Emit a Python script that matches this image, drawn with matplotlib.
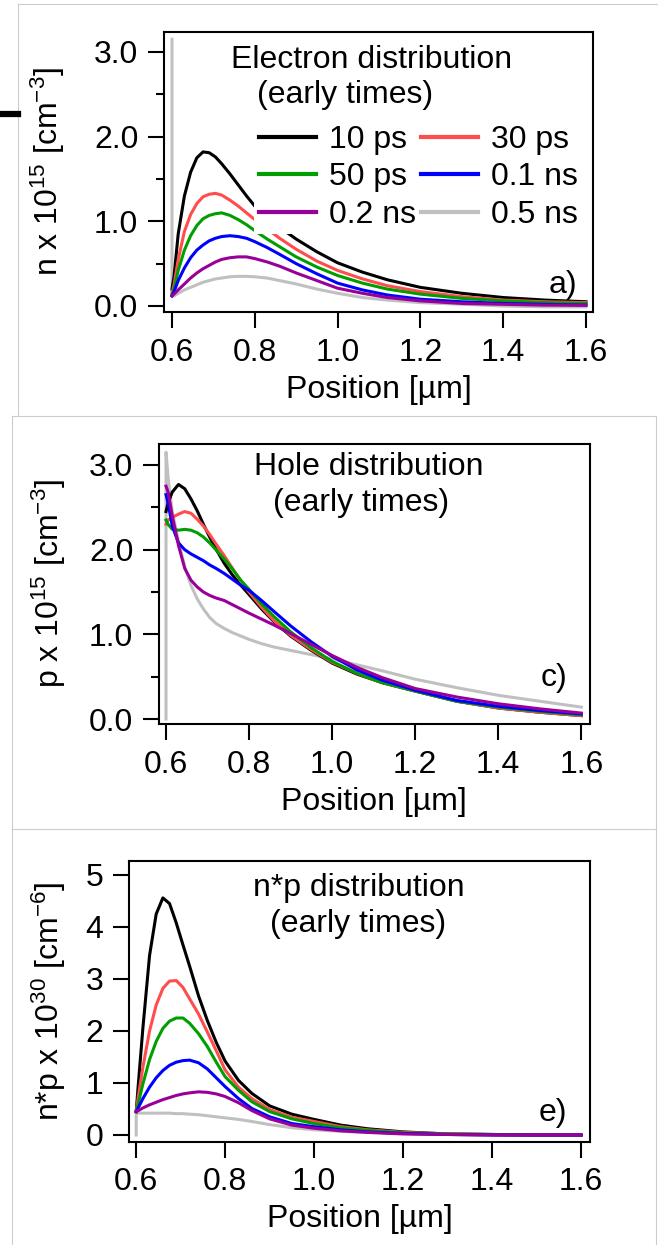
import matplotlib
matplotlib.use('Agg')
import matplotlib.pyplot as plt
from matplotlib.lines import Line2D
from matplotlib.ticker import MultipleLocator, FormatStrFormatter

plt.rcParams['font.family'] = ['Liberation Sans', 'DejaVu Sans']
plt.rcParams['mathtext.fontset'] = 'custom'
plt.rcParams['mathtext.rm'] = 'Liberation Sans'
plt.rcParams['mathtext.it'] = 'Liberation Sans:italic'
plt.rcParams['mathtext.bf'] = 'Liberation Sans:bold'

labels = ['10 ps', '30 ps', '50 ps', '0.1 ns', '0.2 ns', '0.5 ns']
colors = ['#000000', '#ff4d4d', '#009e00', '#0000ff', '#990099', '#c0c0c0']

# position grid [um]; the 0.5 ns curves start with a vertical jump at 0.6
x = [0.600, 0.605, 0.615, 0.630, 0.645, 0.660, 0.675, 0.690, 0.705, 0.720,
     0.740, 0.760, 0.780, 0.800, 0.830, 0.860, 0.900, 0.950, 1.000, 1.060,
     1.120, 1.200, 1.300, 1.400, 1.500, 1.600]
x_gray = [0.600] + x

# a) electrons, n x 1e15 cm^-3
n_10ps = [0.20, 0.35, 0.85, 1.30, 1.58, 1.75, 1.82, 1.81, 1.76, 1.68, 1.56, 1.43, 1.30,
          1.18, 1.04, 0.93, 0.79, 0.64, 0.51, 0.40, 0.31, 0.22, 0.15, 0.10, 0.07, 0.05]
n_30ps = [0.15, 0.25, 0.55, 0.88, 1.08, 1.21, 1.29, 1.32, 1.33, 1.31, 1.25, 1.18, 1.10,
          1.02, 0.91, 0.80, 0.67, 0.53, 0.42, 0.32, 0.24, 0.17, 0.11, 0.07, 0.05, 0.04]
n_50ps = [0.13, 0.20, 0.42, 0.66, 0.83, 0.95, 1.03, 1.07, 1.09, 1.10, 1.07, 1.02, 0.96,
          0.89, 0.79, 0.70, 0.58, 0.46, 0.36, 0.27, 0.20, 0.14, 0.09, 0.06, 0.04, 0.03]
n_01ns = [0.12, 0.17, 0.30, 0.45, 0.57, 0.66, 0.72, 0.77, 0.80, 0.82, 0.83, 0.82, 0.80,
          0.76, 0.69, 0.61, 0.50, 0.38, 0.27, 0.19, 0.13, 0.08, 0.05, 0.03, 0.02, 0.01]
n_02ns = [0.12, 0.14, 0.19, 0.26, 0.33, 0.39, 0.44, 0.48, 0.52, 0.55, 0.57, 0.58, 0.58,
          0.56, 0.52, 0.47, 0.39, 0.30, 0.21, 0.15, 0.10, 0.06, 0.03, 0.02, 0.01, 0.01]
n_05ns = [3.15, 0.11, 0.12, 0.15, 0.19, 0.22, 0.25, 0.28, 0.30, 0.32, 0.33, 0.345, 0.35,
          0.35, 0.345, 0.33, 0.30, 0.26, 0.20, 0.15, 0.10, 0.07, 0.04, 0.02, 0.00, -0.01, -0.01]

# c) holes, p x 1e15 cm^-3
p_10ps = [2.45, 2.55, 2.68, 2.77, 2.72, 2.60, 2.46, 2.30, 2.15, 2.01, 1.84, 1.70, 1.58,
          1.47, 1.30, 1.15, 0.98, 0.81, 0.66, 0.53, 0.43, 0.33, 0.21, 0.13, 0.08, 0.04]
p_30ps = [2.30, 2.35, 2.38, 2.42, 2.45, 2.43, 2.36, 2.28, 2.18, 2.07, 1.93, 1.78, 1.63,
          1.50, 1.32, 1.16, 0.99, 0.82, 0.67, 0.54, 0.43, 0.33, 0.21, 0.13, 0.08, 0.04]
p_50ps = [2.35, 2.30, 2.24, 2.23, 2.24, 2.23, 2.20, 2.15, 2.08, 2.00, 1.89, 1.77, 1.64,
          1.53, 1.36, 1.21, 1.03, 0.84, 0.68, 0.54, 0.43, 0.33, 0.21, 0.14, 0.09, 0.05]
p_01ns = [2.65, 2.55, 2.28, 2.08, 2.00, 1.95, 1.91, 1.87, 1.82, 1.78, 1.72, 1.65, 1.58,
          1.52, 1.40, 1.27, 1.10, 0.91, 0.74, 0.58, 0.46, 0.34, 0.22, 0.15, 0.10, 0.06]
p_02ns = [2.75, 2.68, 2.40, 2.05, 1.78, 1.64, 1.56, 1.50, 1.46, 1.43, 1.40, 1.35, 1.30,
          1.25, 1.18, 1.11, 1.01, 0.88, 0.75, 0.61, 0.49, 0.36, 0.26, 0.18, 0.12, 0.07]
p_05ns = [0.00, 3.15, 2.85, 2.45, 2.10, 1.80, 1.58, 1.42, 1.30, 1.20, 1.13, 1.07, 1.02,
          0.98, 0.94, 0.89, 0.85, 0.81, 0.76, 0.71, 0.64, 0.57, 0.47, 0.37, 0.28, 0.21, 0.14]

# e) n*p x 1e30 cm^-6
np_10ps = [0.45, 1.00, 2.05, 3.45, 4.25, 4.56, 4.45, 4.08, 3.66, 3.25, 2.68, 2.20, 1.78,
           1.42, 1.05, 0.80, 0.56, 0.40, 0.30, 0.19, 0.12, 0.06, 0.02, 0.01, 0.00, 0.00]
np_30ps = [0.45, 0.75, 1.30, 2.00, 2.50, 2.82, 2.96, 2.97, 2.84, 2.62, 2.33, 1.98, 1.62,
           1.25, 0.92, 0.70, 0.49, 0.34, 0.26, 0.16, 0.10, 0.05, 0.02, 0.01, 0.00, 0.00]
np_50ps = [0.45, 0.62, 0.98, 1.45, 1.80, 2.05, 2.19, 2.25, 2.25, 2.15, 1.95, 1.70, 1.40,
           1.12, 0.86, 0.64, 0.45, 0.31, 0.22, 0.14, 0.09, 0.04, 0.02, 0.01, 0.00, 0.00]
np_01ns = [0.45, 0.53, 0.70, 0.92, 1.10, 1.24, 1.34, 1.40, 1.43, 1.44, 1.39, 1.27, 1.10,
           0.93, 0.70, 0.51, 0.35, 0.22, 0.16, 0.10, 0.06, 0.03, 0.01, 0.00, 0.00, 0.00]
np_02ns = [0.45, 0.47, 0.52, 0.58, 0.63, 0.68, 0.72, 0.76, 0.79, 0.81, 0.83, 0.82, 0.79,
           0.74, 0.62, 0.47, 0.31, 0.19, 0.13, 0.08, 0.05, 0.02, 0.01, 0.00, 0.00, 0.00]
np_05ns = [0.00, 0.42, 0.42, 0.42, 0.42, 0.42, 0.42, 0.42, 0.41, 0.41, 0.40, 0.39, 0.37,
           0.35, 0.33, 0.30, 0.26, 0.20, 0.14, 0.10, 0.07, 0.05, 0.03, 0.01, 0.00, 0.00, 0.00]

W, H = 658, 1245
FS = 23
fig = plt.figure(figsize=(W / 100, H / 100), dpi=100)

def frame_line(x0, y0, x1, y1, color='#cccccc', lw=0.8):
    fig.add_artist(Line2D([x0 / W, x1 / W], [1 - y0 / H, 1 - y1 / H],
                          color=color, lw=lw, transform=fig.transFigure))

# page borders of the pasted panels
frame_line(18, 4, 658, 4)
frame_line(18, 4, 18, 415)
frame_line(12, 416, 656, 416)
frame_line(12, 416, 12, 1245)
frame_line(656, 416, 656, 1245)
frame_line(12, 829, 656, 829)
frame_line(0, 114, 18, 114, color='black', lw=4.5)

def panel(rect, series, ylim, ylabel, ylab_x, ymajor, yminor, yfmt):
    ax = fig.add_axes([rect[0] / W, 1 - rect[3] / H, (rect[2] - rect[0]) / W, (rect[3] - rect[1]) / H])
    lines = []
    for i, ys in enumerate(series):
        xx = x_gray if i == 5 else x
        ln, = ax.plot(xx, ys, color=colors[i], lw=2.2, zorder=1.5 if i == 5 else 2)
        lines.append(ln)
    ax.set_xlim(rect[4], rect[5])
    ax.set_ylim(*ylim)
    ax.xaxis.set_major_locator(MultipleLocator(0.2))
    ax.xaxis.set_major_formatter(FormatStrFormatter('%.1f'))
    ax.yaxis.set_major_locator(MultipleLocator(ymajor))
    if yminor:
        ax.yaxis.set_minor_locator(MultipleLocator(yminor))
    ax.yaxis.set_major_formatter(FormatStrFormatter(yfmt))
    for s in ax.spines.values():
        s.set_linewidth(1.5)
    ax.tick_params(which='major', direction='out', length=11.5, width=1.5, pad=7, labelsize=FS)
    ax.tick_params(which='minor', direction='out', length=5.5, width=1.5)
    ax.set_xlabel('Position [\u00b5m]', fontsize=FS, labelpad=5)
    ax.set_ylabel(ylabel, fontsize=FS)
    ax.yaxis.set_label_coords(ylab_x, 0.5)
    return ax, lines

ax1, l1 = panel((164, 32, 593, 312, 0.5807, 1.617), [n_10ps, n_30ps, n_50ps, n_01ns, n_02ns, n_05ns],
                (-0.071, 3.236), r'n x 10$^{15}$ [cm$^{-3}$]', -0.225, 1.0, 0.5, '%.1f')
ax2, l2 = panel((159, 444, 589.6, 724, 0.5831, 1.620), [p_10ps, p_30ps, p_50ps, p_01ns, p_02ns, p_05ns],
                (-0.059, 3.248), r'p x 10$^{15}$ [cm$^{-3}$]', -0.211, 1.0, 0.5, '%.1f')
ax3, l3 = panel((129.3, 860.7, 589.6, 1141.7, 0.5845, 1.6194), [np_10ps, np_30ps, np_50ps, np_01ns, np_02ns, np_05ns],
                (-0.129, 5.275), r'n*p x 10$^{30}$ [cm$^{-6}$]', -0.133, 1.0, None, '%d')

ax1.text(0.484, 0.871, 'Electron distribution', transform=ax1.transAxes, ha='center', va='baseline', fontsize=FS)
ax1.text(0.422, 0.746, '(early times)', transform=ax1.transAxes, ha='center', va='baseline', fontsize=FS)
ax2.text(0.488, 0.889, 'Hole distribution', transform=ax2.transAxes, ha='center', va='baseline', fontsize=FS)
ax2.text(0.469, 0.761, '(early times)', transform=ax2.transAxes, ha='center', va='baseline', fontsize=FS)
ax3.text(0.498, 0.874, 'n*p distribution', transform=ax3.transAxes, ha='center', va='baseline', fontsize=FS)
ax3.text(0.498, 0.746, '(early times)', transform=ax3.transAxes, ha='center', va='baseline', fontsize=FS)

ax1.text(0.963, 0.068, 'a)', transform=ax1.transAxes, ha='right', va='baseline', fontsize=FS)
ax2.text(0.948, 0.136, 'c)', transform=ax2.transAxes, ha='right', va='baseline', fontsize=FS)
ax3.text(0.951, 0.074, 'e)', transform=ax3.transAxes, ha='right', va='baseline', fontsize=FS)

order = [0, 2, 4, 1, 3, 5]
leg = ax1.legend([l1[i] for i in order], [labels[i] for i in order], ncol=2, loc='upper left',
                 bbox_to_anchor=(0.21, 0.685), borderaxespad=0, borderpad=0.15, handlelength=1.8,
                 handletextpad=0.4, columnspacing=0.15, labelspacing=0.23, frameon=True, fancybox=False,
                 framealpha=1, facecolor='white', edgecolor='none', fontsize=FS)
leg.set_zorder(2.4)  # above the curves, below the frame
for ln in leg.get_lines():
    ln.set_linewidth(3)

fig.savefig('out.png', dpi=100)
